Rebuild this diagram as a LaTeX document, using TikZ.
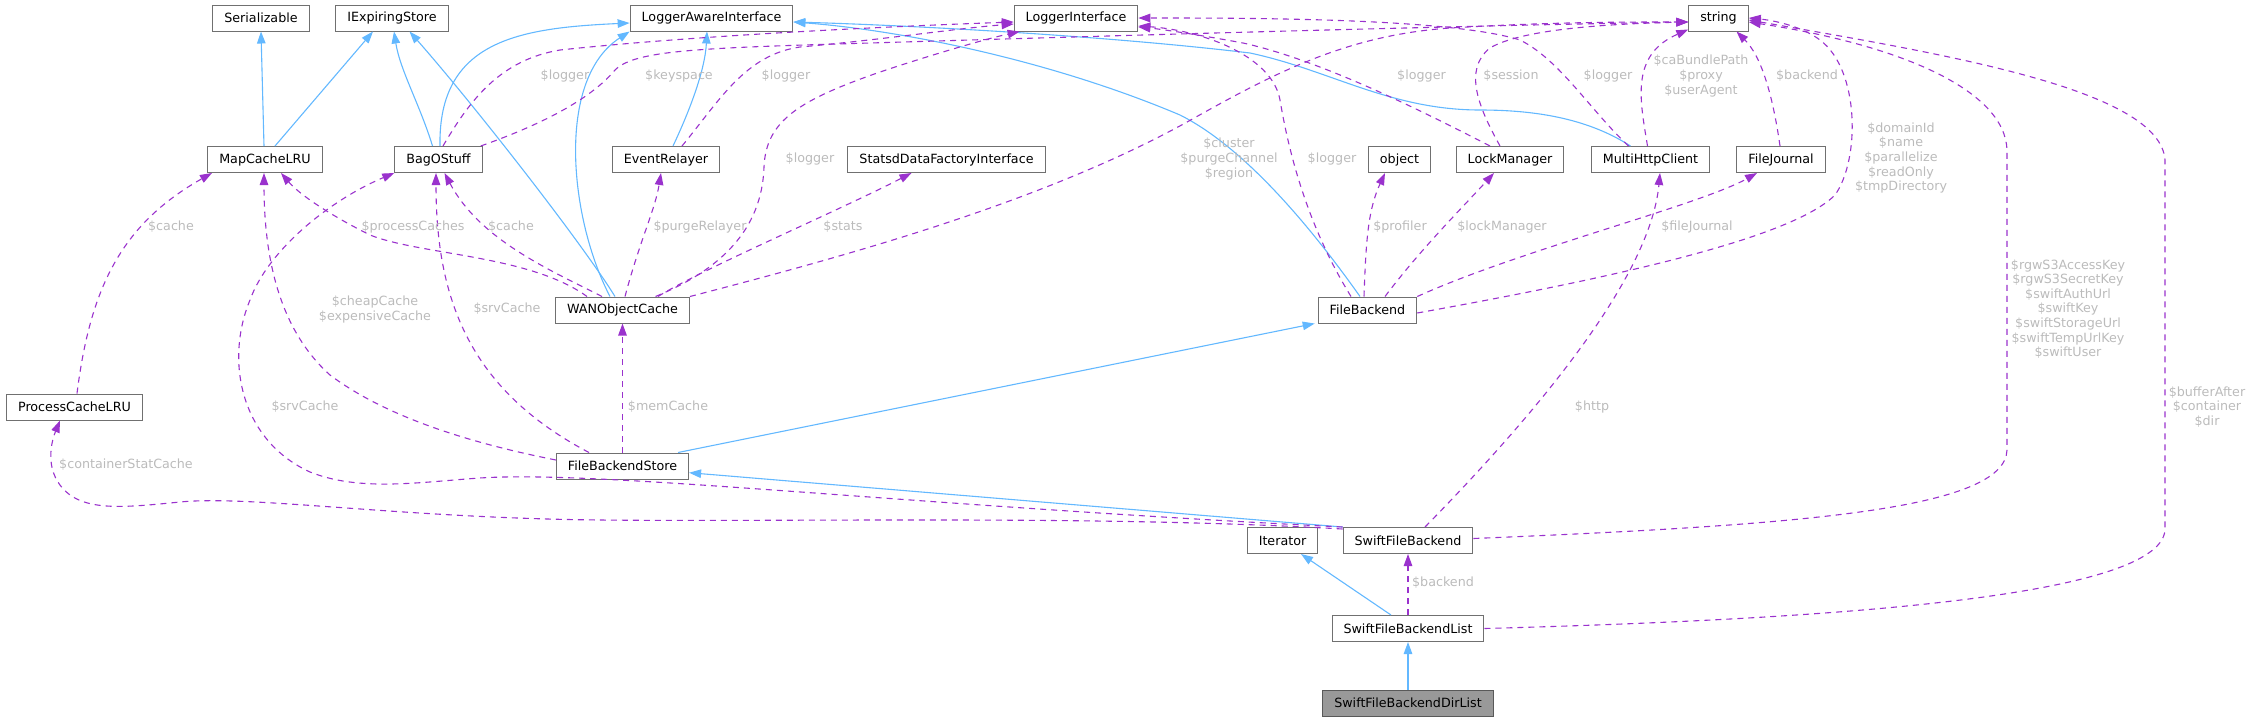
\documentclass[tikz,border=0pt]{standalone}
\usepackage{fontspec}
\setmainfont{DejaVu Sans}
\usetikzlibrary{arrows.meta}
\definecolor{inhblue}{HTML}{63B8FF}
\definecolor{usepurple}{HTML}{9A32CD}
\definecolor{boxgray}{HTML}{707070}
\definecolor{lblgray}{HTML}{BBBBBB}
\tikzset{
  cls/.style={draw=boxgray, fill=white, line width=1pt, minimum height=26pt, inner xsep=11.5pt, inner ysep=0pt, font=\fontsize{12.7}{14.6}\selectfont},
  clsmain/.style={cls, fill=black!40, draw=black!65},
  inh/.style={draw=inhblue, line width=1.1pt, -{Triangle[length=12pt,width=8.5pt]}},
  use/.style={draw=usepurple, line width=1.1pt, dash pattern=on 6pt off 5pt, -{Triangle[length=12pt,width=8.5pt]}},
  lbl/.style={text=lblgray, font=\fontsize{12.7}{14.6}\selectfont, align=center, inner sep=0pt},
}
\begin{document}
\begin{tikzpicture}[x=1pt,y=-1pt]
\useasboundingbox (0,0) rectangle (2252,721);
% nodes
\node[cls] (Serializable) at (261,18) {Serializable};
\node[cls] (IExpiringStore) at (392,18) {IExpiringStore};
\node[cls] (LAI) at (711.5,18) {LoggerAwareInterface};
\node[cls] (LI) at (1076,18) {LoggerInterface};
\node[cls] (string) at (1718.5,18) {string};
\node[cls] (MapCacheLRU) at (265,159.5) {MapCacheLRU};
\node[cls] (BagOStuff) at (438.5,159.5) {BagOStuff};
\node[cls] (EventRelayer) at (666,159.5) {EventRelayer};
\node[cls] (Statsd) at (946.5,159.5) {StatsdDataFactoryInterface};
\node[cls] (object) at (1399.5,159.5) {object};
\node[cls] (LockManager) at (1510,159.5) {LockManager};
\node[cls] (MultiHttp) at (1650.5,159.5) {MultiHttpClient};
\node[cls] (FileJournal) at (1781,159.5) {FileJournal};
\node[cls] (WAN) at (622.5,310) {WANObjectCache};
\node[cls] (FileBackend) at (1367.5,310) {FileBackend};
\node[cls] (PCLRU) at (74.5,407) {ProcessCacheLRU};
\node[cls] (FBS) at (622.5,466) {FileBackendStore};
\node[cls] (Iterator) at (1282.5,540.5) {Iterator};
\node[cls] (Swift) at (1408,540.5) {SwiftFileBackend};
\node[cls] (SwiftList) at (1408,628.5) {SwiftFileBackendList};
\node[clsmain] (SwiftDirList) at (1408,703) {SwiftFileBackendDirList};

% inheritance edges
\draw[inh] ([xshift=-1pt]MapCacheLRU.north) -- (Serializable.south);
\draw[inh] ([xshift=10pt]MapCacheLRU.north) -- ([xshift=-19pt]IExpiringStore.south);
\draw[inh] ([xshift=-6pt]BagOStuff.north) .. controls (420,105) and (400,70) .. ([xshift=2pt]IExpiringStore.south);
\draw[inh] ([xshift=1.5pt]BagOStuff.north) .. controls (438,40) and (520,28) .. ([yshift=-5pt]LAI.west);
\draw[inh] ([xshift=-7.5pt]WAN.north) .. controls (580,240) and (470,100) .. ([xshift=17.5pt]IExpiringStore.south);
\draw[inh] ([xshift=-12.5pt]WAN.north) .. controls (570,220) and (555,80) .. (LAI.south west);
\draw[inh] ([xshift=7pt]EventRelayer.north) .. controls (690,110) and (705,70) .. ([xshift=-4.5pt]LAI.south);
\draw[inh] ([xshift=-7.5pt]FileBackend.north) .. controls (1320,240) and (1250,150) .. (1180,115) .. controls (1050,60) and (900,30) .. ([yshift=-4pt]LAI.east);
\draw[inh] ([xshift=-20pt]MultiHttp.north) .. controls (1590,120) and (1540,110) .. (1480,110) .. controls (1390,110) and (1330,70) .. (1250,53) .. controls (1100,35) and (900,25) .. ([yshift=-4pt]LAI.east);
\draw[inh] ([xshift=-11pt]FBS.north east) -- ([xshift=-3pt]FileBackend.south west);
\draw[inh] (Swift.north west) -- ([yshift=-6.7pt]FBS.east);
\draw[inh] ([xshift=-17pt]SwiftList.north) -- ([xshift=18.5pt]Iterator.south);
\draw[inh] (SwiftDirList.north) -- (SwiftList.south);

% usage edges
\draw[use] ([xshift=2.5pt]PCLRU.north) .. controls (90,290) and (120,225) .. ([xshift=-53pt]MapCacheLRU.south);
\draw[use] ([xshift=-35.5pt]WAN.north) .. controls (530,255) and (420,255) .. (370,235) .. controls (330,215) and (300,195) .. ([xshift=16pt]MapCacheLRU.south);
\draw[use] ([xshift=-20.5pt]WAN.north) .. controls (550,270) and (480,240) .. ([xshift=6pt]BagOStuff.south);
\draw[use] ([xshift=-33.5pt]FBS.north) .. controls (470,390) and (436,300) .. ([xshift=-2.5pt]BagOStuff.south);
\draw[use] (Swift.north west) .. controls (900,505) and (600,470) .. (480,478) .. controls (420,482) and (360,492) .. (310,472) .. controls (240,440) and (225,360) .. (250,300) .. controls (268,250) and (330,200) .. (BagOStuff.south west);
\draw[use] ([yshift=-2pt]Swift.north west) .. controls (1100,515) and (800,522) .. (600,520) .. controls (400,518) and (250,495) .. (180,502) .. controls (120,508) and (80,512) .. (60,485) .. controls (45,465) and (52,440) .. ([xshift=-14.5pt]PCLRU.south);
\draw[use] ([yshift=6pt]FBS.west) .. controls (480,445) and (390,420) .. (330,375) .. controls (280,330) and (264,260) .. ([xshift=-1pt]MapCacheLRU.south);
\draw[use] (FBS.north) -- (WAN.south);
\draw[use] ([xshift=2.5pt]WAN.north) .. controls (640,240) and (655,210) .. ([xshift=-5pt]EventRelayer.south);
\draw[use] ([xshift=35.5pt]WAN.north) .. controls (700,270) and (840,210) .. ([xshift=-35pt]Statsd.south);
\draw[use] ([xshift=33pt]WAN.north) .. controls (720,270) and (762,230) .. (764,167) .. controls (766,120) and (800,100) .. (880,72) .. controls (940,52) and (990,38) .. ([xshift=6pt]LI.south west);
\draw[use] (WAN.north east) .. controls (850,255) and (1050,200) .. (1196,117) .. controls (1280,70) and (1350,35) .. (1450,28) .. controls (1550,22) and (1620,22) .. ([yshift=-4pt]string.west);
\draw[use] ([xshift=4.5pt]BagOStuff.north) .. controls (470,100) and (500,60) .. (560,50) .. controls (700,35) and (900,26) .. ([yshift=-4pt]LI.west);
\draw[use] ([xshift=-2pt]BagOStuff.north east) .. controls (540,125) and (590,100) .. (615,70) .. controls (635,50) and (700,48) .. (870,43) .. controls (1200,33) and (1500,25) .. ([yshift=-4pt]string.west);
\draw[use] ([xshift=16pt]EventRelayer.north) .. controls (720,100) and (745,55) .. (800,47) .. controls (880,40) and (960,28) .. ([yshift=-6pt]LI.west);
\draw[use] ([xshift=-16.5pt]FileBackend.north) .. controls (1310,230) and (1290,160) .. (1280,100) .. controls (1272,55) and (1200,30) .. ([yshift=-8pt]LI.east);
\draw[use] ([xshift=-20pt]LockManager.north) .. controls (1420,110) and (1320,60) .. (1243,43) .. controls (1200,35) and (1160,29) .. ([yshift=-9pt]LI.east);
\draw[use] ([xshift=-10pt]LockManager.north) .. controls (1480,110) and (1462,70) .. (1490,48) .. controls (1520,30) and (1600,24) .. ([yshift=-4pt]string.west);
\draw[use] ([xshift=-22pt]MultiHttp.north) .. controls (1590,110) and (1560,60) .. (1520,40) .. controls (1450,18) and (1250,18) .. (LI.east);
\draw[use] ([xshift=-3pt]MultiHttp.north) .. controls (1640,100) and (1630,55) .. ([yshift=2pt]string.south west);
\draw[use] ([xshift=-1pt]FileJournal.north) .. controls (1772,90) and (1760,55) .. ([xshift=18pt]string.south);
\draw[use] ([xshift=-3.5pt]FileBackend.north) .. controls (1366,240) and (1368,210) .. ([xshift=-14.5pt]object.south);
\draw[use] ([xshift=17.5pt]FileBackend.north) .. controls (1420,250) and (1460,210) .. ([xshift=-16pt]LockManager.south);
\draw[use] (FileBackend.north east) .. controls (1520,250) and (1700,205) .. ([xshift=-24pt]FileJournal.south);
\draw[use] ([yshift=-3pt]FileBackend.east) .. controls (1600,280) and (1790,240) .. (1835,195) .. controls (1860,160) and (1860,70) .. (1820,40) .. controls (1800,25) and (1770,20) .. (string.east);
\draw[use] ([yshift=2pt]Swift.east) .. controls (1800,525) and (2005,510) .. (2007,450) -- (2007,150) .. controls (2005,90) and (1900,45) .. ([yshift=-4pt]string.east);
\draw[use] (SwiftList.east) .. controls (1800,620) and (2160,600) .. (2165,530) -- (2165,160) .. controls (2160,90) and (1950,55) .. ([yshift=-2pt]string.east);
\draw[use] ([xshift=17pt]Swift.north) .. controls (1530,420) and (1650,280) .. ([xshift=9.5pt]MultiHttp.south);
\draw[use] (SwiftList.north) -- (Swift.south);

% labels
\node[lbl] (l1) at (171,227) {\$cache};
\node[lbl] (l2) at (413,227) {\$processCaches};
\node[lbl] (l3) at (511,227) {\$cache};
\node[lbl] (l4) at (565,76) {\$logger};
\node[lbl] (l5) at (679,76) {\$keyspace};
\node[lbl] (l6) at (786,76) {\$logger};
\node[lbl] (l7) at (810,159) {\$logger};
\node[lbl] (l8) at (700,227) {\$purgeRelayer};
\node[lbl] (l9) at (843,227) {\$stats};
\node[lbl] (l10) at (1229,159) {\$cluster\\\$purgeChannel\\\$region};
\node[lbl] (l11) at (1332,159) {\$logger};
\node[lbl] (l12) at (1421.5,76) {\$logger};
\node[lbl] (l13) at (1511,76) {\$session};
\node[lbl] (l14) at (1608,76) {\$logger};
\node[lbl] (l15) at (1701,76) {\$caBundlePath\\\$proxy\\\$userAgent};
\node[lbl] (l16) at (1807,76) {\$backend};
\node[lbl] (l17) at (1901,158) {\$domainId\\\$name\\\$parallelize\\\$readOnly\\\$tmpDirectory};
\node[lbl] (l18) at (1400,227) {\$profiler};
\node[lbl] (l19) at (1502,227) {\$lockManager};
\node[lbl] (l20) at (1697,227) {\$fileJournal};
\node[lbl] (l21) at (375,309.5) {\$cheapCache\\\$expensiveCache};
\node[lbl] (l22) at (507,309) {\$srvCache};
\node[lbl] (l23) at (305,407) {\$srvCache};
\node[lbl] (l24) at (126,465) {\$containerStatCache};
\node[lbl] (l25) at (668,407) {\$memCache};
\node[lbl] (l26) at (1592,407) {\$http};
\node[lbl] (l27) at (2068,309) {\$rgwS3AccessKey\\\$rgwS3SecretKey\\\$swiftAuthUrl\\\$swiftKey\\\$swiftStorageUrl\\\$swiftTempUrlKey\\\$swiftUser};
\node[lbl] (l28) at (2207,407) {\$bufferAfter\\\$container\\\$dir};
\node[lbl] (l29) at (1443,583) {\$backend};
\end{tikzpicture}
\end{document}
